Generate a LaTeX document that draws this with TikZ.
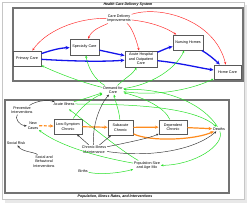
\documentclass[tikz,border=0pt]{standalone}
\usepackage{fontspec}
\setmainfont{Liberation Sans}
\usetikzlibrary{arrows.meta,calc}
\definecolor{lgreen}{RGB}{40,225,40}
\definecolor{lorange}{RGB}{255,140,30}
\definecolor{framegray}{RGB}{115,115,115}
\definecolor{lblue}{RGB}{20,20,235}
\begin{document}
\begin{tikzpicture}[x=1pt,y=-1pt,
  lbl/.style={font=\fontsize{3.7}{4.5}\selectfont, align=center, inner sep=0.8pt},
  ttl/.style={font=\fontsize{3.6}{4.3}\selectfont\bfseries\itshape, inner sep=0.5pt},
  stock/.style={lbl, draw=gray!70!black, line width=0.9pt, fill=white, inner sep=0pt},
  redarr/.style={draw=red!85!white, line width=0.45pt, -{Stealth[length=2.6pt,width=2.2pt]}},
  bluearr/.style={draw=lblue, line width=1.3pt, -{Stealth[length=4pt,width=3.6pt]}},
  grnarr/.style={draw=lgreen, line width=0.5pt, -{Stealth[length=2.6pt,width=2.2pt]}},
  orgarr/.style={draw=lorange, line width=1.2pt, -{Stealth[length=3.6pt,width=3.2pt]}},
  blkarr/.style={draw=black!80, line width=0.45pt, -{Stealth[length=2.6pt,width=2.2pt]}}
]
\useasboundingbox (0,0) rectangle (251,205);
\fill[white] (0,0) rectangle (251,205);
% page frame with shadow
\fill[gray!18] (5,200) rectangle (247,203);
\fill[gray!18] (244,5) rectangle (247,203);
\draw[gray!45, line width=0.5pt, fill=white] (2.5,2.5) rectangle (244,199.5);
% sectors
\draw[framegray, line width=1.1pt] (13,8) rectangle (243,81);
\draw[framegray, line width=1.1pt] (5,100) rectangle (229,193);
\node[ttl] (t1) at (128,4.6) {Health Care Delivery System};
\node[ttl] (t2) at (115,196.5) {Population, Illness Rates, and Interventions};

% stocks
\node[stock, minimum width=28pt, minimum height=15pt] (pc) at (27,58.5) {Primary Care};
\node[stock, minimum width=29pt, minimum height=16pt] (sc) at (84.5,47) {Specialty Care};
\node[stock, minimum width=32pt, minimum height=16pt] (ah) at (141,59) {Acute Hospital\\and Outpatient\\Care};
\node[stock, minimum width=30pt, minimum height=15pt] (nh) at (188,42.5) {Nursing Homes};
\node[stock, minimum width=27pt, minimum height=14pt] (hc) at (227.5,72) {Home Care};
\node[stock, minimum width=28pt, minimum height=15pt] (ls) at (68,126.5) {Low-Symptom\\Chronic};
\node[stock, minimum width=25pt, minimum height=15pt] (sa) at (120.5,127.5) {Subacute\\Chronic};
\node[stock, minimum width=28pt, minimum height=14pt] (dc) at (173,127) {Dependent\\Chronic};

% auxiliaries
\node[lbl] (cdi) at (119,18.5) {Care Delivery\\Improvements};
\node[lbl] (dem) at (113,90) {Demand for\\Care};
\node[lbl] (ai) at (64,104) {Acute Illness};
\node[lbl] (pi) at (22,110) {Preventive\\Interventions};
\node[lbl] (nc) at (33,125.5) {New\\Cases};
\node[lbl] (de) at (219,129) {Deaths};
\node[lbl] (sr) at (16,143) {Social Risk};
\node[lbl] (cim) at (94,149.5) {Chronic Illness\\Maintenance};
\node[lbl] (sbi) at (44,161.5) {Social and\\Behavioral\\Interventions};
\node[lbl] (bi) at (83,171) {Births};
\node[lbl] (ps) at (147,165.5) {Population Size\\and Age Mix};

% red: care delivery improvements
\draw[redarr] (cdi) .. controls (75,18) and (45,32) .. (pc);
\draw[redarr] (cdi) .. controls (100,27) and (92,30) .. (sc);
\draw[redarr] (cdi) .. controls (131,26) and (136,38) .. (ah);
\draw[redarr] (cdi) .. controls (150,22) and (165,27) .. (nh);
\draw[redarr] (cdi) .. controls (160,5) and (215,20) .. (hc);

% blue: patient flows
\draw[bluearr] (pc) .. controls (52,50) and (60,48) .. (sc);
\draw[bluearr] (pc) .. controls (70,61) and (100,62) .. (ah);
\draw[bluearr] (sc) .. controls (108,52) and (117,54) .. (ah);
\draw[bluearr] (ah) .. controls (163,50) and (167,48) .. (nh);
\draw[bluearr] (ah) .. controls (180,63) and (200,68) .. (hc);
\draw[bluearr] (nh) .. controls (208,54) and (214,59) .. (hc);

% green: demand
\draw[grnarr] (dem) .. controls (80,82) and (55,72) .. (pc);
\draw[grnarr] (dem) .. controls (95,80) and (88,68) .. (sc);
\draw[grnarr] (dem) .. controls (125,78) and (133,74) .. (ah);
\draw[grnarr] (dem) .. controls (150,85) and (175,70) .. (nh);
\draw[grnarr] (dem) .. controls (160,97) and (195,88) .. (hc);
\draw[grnarr] (ai) .. controls (85,99) and (95,95) .. (dem);
\draw[grnarr] (ls) .. controls (80,108) and (92,98) .. (dem);
\draw[grnarr] (sa) .. controls (119,110) and (116,104) .. (dem);
\draw[grnarr] (dc) .. controls (165,108) and (145,98) .. (dem);
\draw[grnarr] (de) .. controls (200,100) and (160,88) .. (dem);
\draw[grnarr] (ai) .. controls (140,104) and (195,108) .. (de);
\draw[grnarr] (ps) .. controls (120,150) and (90,125) .. ($(ai.south)+(5,3)$);
\draw[grnarr] (ps) .. controls (115,160) and (65,150) .. (nc);
\draw[grnarr] (bi) .. controls (100,175) and (120,173) .. (ps);
\draw[grnarr] (de) .. controls (225,145) and (195,165) .. (ps);

% orange: illness flows
\draw[orgarr, dash pattern=on 3pt off 1.6pt] (nc) -- (ls);
\draw[orgarr] (ls) -- (sa);
\draw[orgarr] (sa) -- (dc);
\draw[orgarr] (dc) -- (de);
\draw[orgarr] (sa) .. controls (150,142) and (195,140) .. (de);

% black: interventions
\draw[blkarr] (pi) .. controls (38,100) and (48,100) .. (ai);
\draw[blkarr] (pi) .. controls (14,118) and (20,126) .. (nc);
\draw[blkarr] (sbi) .. controls (35,152) and (22,152) .. (sr);
\draw[blkarr] (cim) -- (ls);
\draw[blkarr] (cim) -- (sa);
\draw[blkarr] (cim) .. controls (130,142) and (150,138) .. (dc);
\draw[blkarr] (cim) .. controls (150,158) and (195,150) .. (de);
\draw[blkarr] (cim) .. controls (92,125) and (100,105) .. (dem);
\end{tikzpicture}
\end{document}
